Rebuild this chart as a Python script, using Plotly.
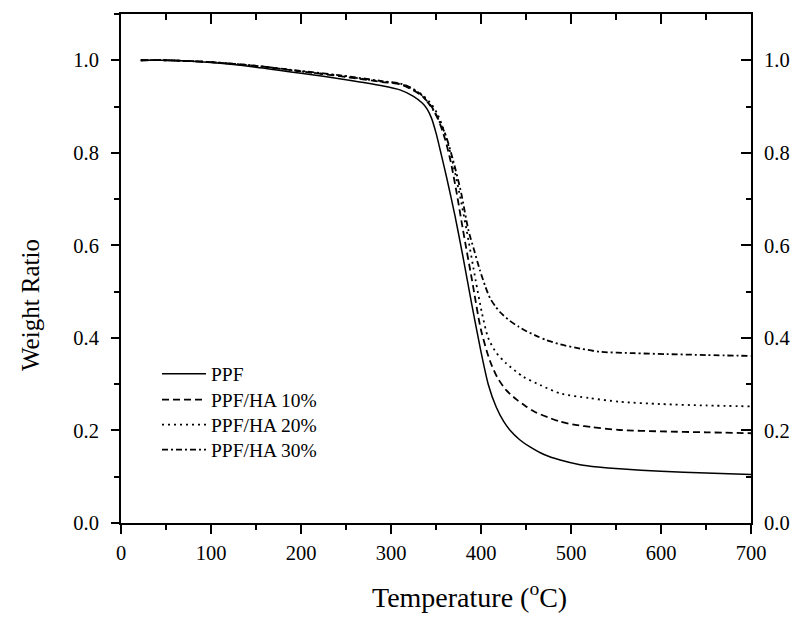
import plotly.graph_objects as go

# ---- data ----
PPF_T = [22, 50, 100, 150, 200, 250, 290, 310, 325, 335, 340, 345, 350, 356, 362, 371, 380, 390, 400, 408, 417, 425, 432, 443, 454, 470, 488, 510, 530, 554, 600, 650, 700]
PPF_W = [1.0, 1.0, 0.995, 0.985, 0.972, 0.958, 0.945, 0.936, 0.922, 0.907, 0.895, 0.875, 0.843, 0.795, 0.745, 0.665, 0.575, 0.47, 0.37, 0.30, 0.25, 0.22, 0.201, 0.18, 0.165, 0.148, 0.136, 0.126, 0.121, 0.117, 0.112, 0.108, 0.105]

HA10_T = [22, 50, 100, 150, 200, 250, 290, 310, 325, 335, 345, 352, 360, 366, 373, 380, 390, 400, 410, 418, 428, 440, 450, 460, 475, 488, 505, 524, 554, 600, 650, 700]
HA10_W = [1.0, 1.0, 0.996, 0.988, 0.976, 0.964, 0.953, 0.948, 0.935, 0.922, 0.90, 0.875, 0.83, 0.784, 0.713, 0.633, 0.525, 0.417, 0.35, 0.315, 0.287, 0.266, 0.252, 0.24, 0.228, 0.219, 0.212, 0.207, 0.201, 0.198, 0.196, 0.194]

HA20_T = [22, 50, 100, 150, 200, 250, 290, 310, 325, 335, 345, 352, 360, 368, 376, 384, 394, 401, 408, 417, 428, 447, 466, 488, 520, 554, 600, 650, 700]
HA20_W = [1.0, 1.0, 0.996, 0.988, 0.976, 0.965, 0.954, 0.949, 0.937, 0.925, 0.905, 0.882, 0.842, 0.784, 0.713, 0.633, 0.525, 0.454, 0.40, 0.368, 0.345, 0.316, 0.298, 0.28, 0.27, 0.262, 0.257, 0.254, 0.252]

HA30_T = [22, 50, 100, 150, 200, 250, 290, 310, 325, 336, 347, 360, 369, 378, 386, 392, 399, 405, 410, 416, 421, 432, 442, 451, 462, 473, 488, 510, 532, 570, 606, 650, 700]
HA30_W = [1.0, 1.0, 0.996, 0.988, 0.977, 0.966, 0.955, 0.950, 0.938, 0.921, 0.892, 0.842, 0.784, 0.713, 0.633, 0.592, 0.545, 0.51, 0.486, 0.468, 0.456, 0.437, 0.424, 0.414, 0.404, 0.395, 0.386, 0.377, 0.370, 0.367, 0.365, 0.363, 0.361]

NAMES = ["PPF", "PPF/HA 10%", "PPF/HA 20%", "PPF/HA 30%"]
X_TICKS = [0, 100, 200, 300, 400, 500, 600, 700]
Y_TICKS = [0.0, 0.2, 0.4, 0.6, 0.8, 1.0]
X_TITLE = "Temperature (<sup>o</sup>C)"
Y_TITLE = "Weight Ratio"

FONT = "Liberation Serif, Times New Roman, serif"

# page body has an 8px margin: figure is 792x614 placed at (8,8)
W, H = 792, 614
ML, MR, MT, MB = 113, 49, 6, 99
PW = W - ML - MR
PH = H - MT - MB

def px_x(px):  # page pixel -> paper x
    return (px - 8 - ML) / PW

def px_y(py):  # page pixel -> paper y
    return 1 - (py - 8 - MT) / PH

series = [
    (PPF_T, PPF_W, NAMES[0], "solid", 1.5),
    (HA10_T, HA10_W, NAMES[1], "7px,4px", 1.8),
    (HA20_T, HA20_W, NAMES[2], "2px,4px", 1.8),
    (HA30_T, HA30_W, NAMES[3], "6px,3px,2px,3px", 1.8),
]
legend_ids = ["legend", "legend2", "legend3", "legend4"]
legend_centers = [374, 400, 425, 450]

fig = go.Figure()
for (t, w, name, dash, lw), lid in zip(series, legend_ids):
    fig.add_trace(go.Scatter(
        x=t, y=w, name=name, mode="lines", legend=lid,
        line=dict(color="black", width=lw, dash=dash, shape="spline", smoothing=0.7),
        hoverinfo="skip",
    ))

# invisible trace to activate mirror axes
fig.add_trace(go.Scatter(x=PPF_T, y=PPF_W, xaxis="x2", yaxis="y2", mode="lines",
                         line=dict(width=0, color="rgba(0,0,0,0)"), showlegend=False, hoverinfo="skip"))

legend_layout = {}
for lid, cy in zip(legend_ids, legend_centers):
    legend_layout[lid] = dict(x=px_x(157), y=px_y(cy), xanchor="left", yanchor="middle",
                              bgcolor="rgba(0,0,0,0)", font=dict(size=19.5, family=FONT),
                              itemwidth=44, borderwidth=0)

fig.update_layout(
    width=W, height=H,
    margin=dict(l=ML, r=MR, t=MT, b=MB, autoexpand=False),
    paper_bgcolor="white", plot_bgcolor="white",
    font=dict(family=FONT, size=20.5, color="black"),
    showlegend=True,
    xaxis=dict(range=[0, 700], tickvals=X_TICKS, ticks="outside", ticklen=9, tickwidth=1.5,
               showline=True, linecolor="black", linewidth=2, showgrid=False, zeroline=False,
               automargin=False,
               minor=dict(dtick=50, ticks="outside", ticklen=5, tickwidth=1.5, tickcolor="black", showgrid=False),
               tickcolor="black", ticklabelstandoff=1),
    yaxis=dict(range=[0, 1.1], tickvals=Y_TICKS, tickformat=".1f", ticks="outside", ticklen=8, tickwidth=1.5,
               showline=True, linecolor="black", linewidth=2, showgrid=False, zeroline=False,
               automargin=False,
               minor=dict(dtick=0.1, ticks="outside", ticklen=5, tickwidth=1.5, tickcolor="black", showgrid=False),
               tickcolor="black", ticklabelstandoff=8),
    xaxis2=dict(range=[0, 700], overlaying="x", side="top", tickvals=X_TICKS, showticklabels=False,
                ticks="inside", ticklen=10, tickwidth=1.5, tickcolor="black", automargin=False,
                showline=True, linecolor="black", linewidth=2, showgrid=False, zeroline=False,
                minor=dict(dtick=50, ticks="inside", ticklen=6, tickwidth=1.5, tickcolor="black", showgrid=False)),
    yaxis2=dict(range=[0, 1.1], overlaying="y", side="right", tickvals=Y_TICKS, tickformat=".1f",
                ticks="inside", ticklen=10, tickwidth=1.5, tickcolor="black", ticklabelstandoff=7,
                automargin=False,
                showline=True, linecolor="black", linewidth=2, showgrid=False, zeroline=False,
                minor=dict(dtick=0.1, ticks="inside", ticklen=5, tickwidth=1.5, tickcolor="black", showgrid=False)),
    annotations=[
        dict(text=X_TITLE, xref="paper", yref="paper", x=px_x(469), y=px_y(595),
             xanchor="center", yanchor="middle", showarrow=False, font=dict(size=28)),
        dict(text=Y_TITLE, xref="paper", yref="paper", x=px_x(30), y=px_y(305),
             xanchor="center", yanchor="middle", showarrow=False, textangle=-90, font=dict(size=25)),
    ],
    **legend_layout,
)

fig.write_html("out.html")
